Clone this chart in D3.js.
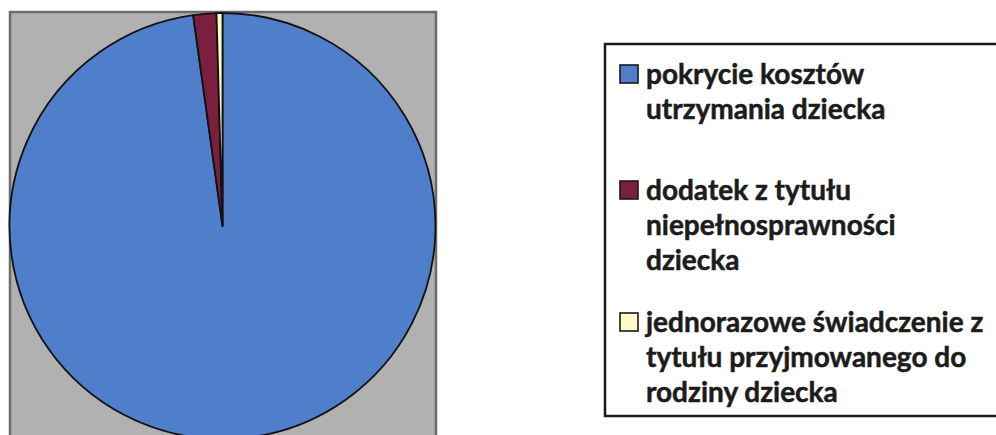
<!DOCTYPE html>
<html>
<head>
<meta charset="utf-8">
<script src="https://cdn.jsdelivr.net/npm/d3@7"></script>
<style>
  html, body { margin: 0; padding: 0; background: #fff; }
  svg { display: block; }
</style>
</head>
<body>
<div id="chart"></div>
<script>
// pie data (share of total)
const categories = [
  "pokrycie kosztów utrzymania dziecka",
  "dodatek z tytułu niepełnosprawności dziecka",
  "jednorazowe świadczenie z tytułu przyjmowanego do rodziny dziecka"
];
const values = [97.8, 1.75, 0.45];
const colors = ["#4f7fcb", "#7b1f3e", "#fbfbc4"];
// legend text as it wraps in the original
const legendLines = [
  ["pokrycie kosztów", "utrzymania dziecka"],
  ["dodatek z tytułu", "niepełnosprawności", "dziecka"],
  ["jednorazowe świadczenie z", "tytułu przyjmowanego do", "rodziny dziecka"]
];

const width = 996, height = 435;
const svg = d3.select("#chart").append("svg")
  .attr("width", width)
  .attr("height", height);

// plot area (bottom runs off the page)
svg.append("rect")
  .attr("x", 10).attr("y", 12)
  .attr("width", 426).attr("height", 440)
  .attr("fill", "#b1b1b1")
  .attr("stroke", "#6b6b6b")
  .attr("stroke-width", 2.5);

const cx = 222.5, cy = 226, r = 213;
const pie = d3.pie().sort(null).value(d => d);
const arc = d3.arc().innerRadius(0).outerRadius(r);

svg.append("g")
  .attr("transform", `translate(${cx},${cy})`)
  .selectAll("path")
  .data(pie(values))
  .join("path")
    .attr("d", arc)
    .attr("fill", (d, i) => colors[i])
    .attr("stroke", "#111")
    .attr("stroke-width", 1.8)
    .attr("stroke-linejoin", "round");

// legend
const legend = svg.append("g");
legend.append("rect")
  .attr("x", 605).attr("y", 44)
  .attr("width", 400).attr("height", 372)
  .attr("fill", "#fff")
  .attr("stroke", "#1a1a1a")
  .attr("stroke-width", 2.5);

const entryTop = [84, 200, 332];
const lineH = 35;
const fontSize = 28;

const items = legend.selectAll("g.item")
  .data(categories)
  .join("g")
  .attr("class", "item");

items.append("rect")
  .attr("x", 620)
  .attr("y", (d, i) => entryTop[i] - 19)
  .attr("width", 18).attr("height", 18)
  .attr("fill", (d, i) => colors[i])
  .attr("stroke", "#1a1a1a")
  .attr("stroke-width", 1.6);

items.each(function (d, i) {
  d3.select(this).selectAll("text")
    .data(legendLines[i])
    .join("text")
    .attr("x", 646)
    .attr("y", (t, j) => entryTop[i] + j * lineH)
    .attr("font-family", "Lato, 'Open Sans', sans-serif")
    .attr("font-weight", "bold")
    .attr("font-size", fontSize)
    .attr("fill", "#1c1c1c")
    .attr("stroke", "#1c1c1c")
    .attr("stroke-width", 0.5)
    .text(t => t);
});
</script>
</body>
</html>
